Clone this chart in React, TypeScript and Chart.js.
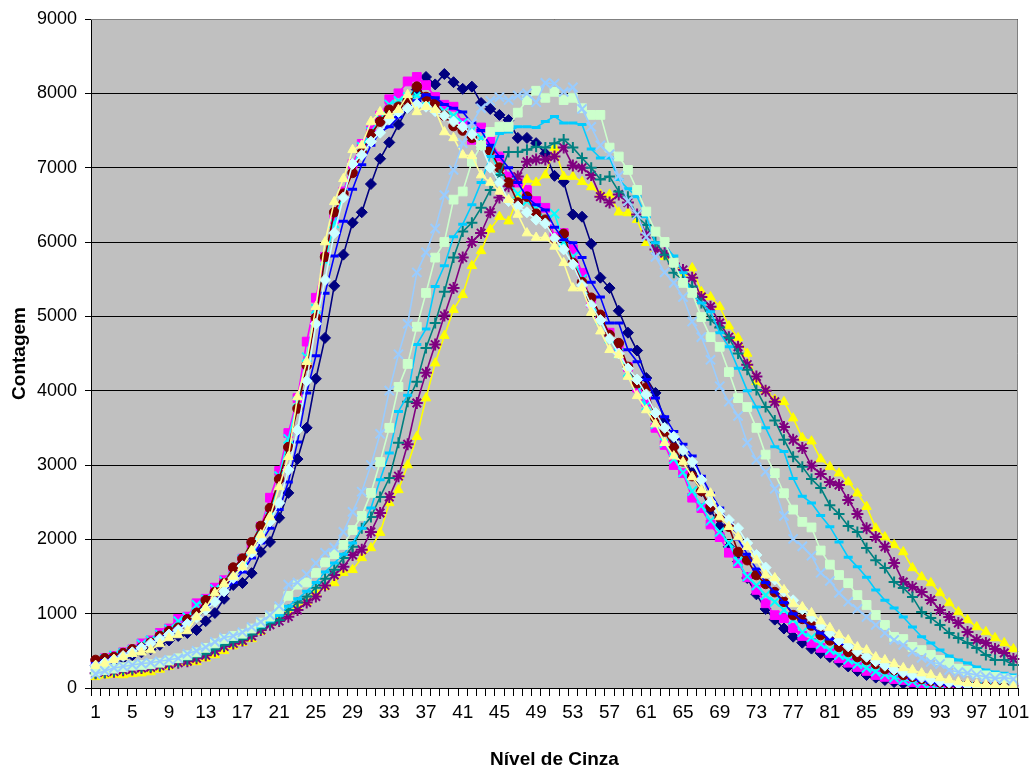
import React, { useEffect, useRef } from 'react';
import { Chart, registerables } from 'chart.js';

Chart.register(...registerables);

const categories: string[] = Array.from({ length: 101 }, (_, i) => String(i + 1));
const yTicks = [0, 1000, 2000, 3000, 4000, 5000, 6000, 7000, 8000, 9000];

// left-peaked group
const navy = [
  300, 330, 360, 400, 440, 480, 520, 580, 640, 700,
  740, 780, 900, 1010, 1200, 1386, 1413, 1545, 1830, 1965,
  2290, 2625, 3080, 3500, 4160, 4710, 5410, 5830, 6260, 6400,
  6780, 7120, 7340, 7580, 7800, 8050, 8220, 8120, 8260, 8150,
  8060, 8090, 7870, 7790, 7710, 7640, 7400, 7400, 7330, 7190,
  6890, 6810, 6370, 6340, 5975, 5520, 5380, 5075, 4780, 4540,
  4170, 3970, 3600, 3350, 3100, 2900, 2650, 2400, 2180, 1900,
  1700, 1480, 1260, 1063, 920, 800, 690, 610, 530, 470,
  417, 350, 290, 230, 175, 140, 108, 80, 60, 45,
  30, 20, 15, 10, 6, 4, 3, 2, 1, 1, 0,
];
const magenta = [
  340, 400, 430, 480, 520, 600, 640, 740, 800, 930,
  960, 1140, 1200, 1350, 1450, 1600, 1740, 1930, 2170, 2560,
  2920, 3430, 3900, 4660, 5250, 5800, 6310, 6680, 7050, 7320,
  7500, 7700, 7920, 8000, 8160, 8220, 8110, 7950, 7846, 7820,
  7600, 7375, 7540, 7375, 7150, 6880, 6800, 6700, 6550, 6460,
  6070, 6120, 5900, 5585, 5180, 4980, 4780, 4550, 4320, 4040,
  3850, 3500, 3270, 3000, 2890, 2560, 2420, 2200, 2030, 1820,
  1680, 1490, 1320, 1140, 980, 940, 808, 700, 606, 540,
  470, 400, 340, 283, 230, 175, 150, 120, 108, 80,
  60, 45, 35, 25, 20, 15, 10, 8, 5, 3, 2,
];
const cyan = [
  330, 390, 440, 470, 510, 590, 640, 720, 790, 900,
  950, 1120, 1190, 1330, 1440, 1600, 1730, 1920, 2150, 2300,
  2850, 3350, 3850, 4450, 5100, 5750, 6250, 6650, 7000, 7280,
  7480, 7650, 7850, 7900, 7950, 7970, 7900, 7800, 7760, 7700,
  7600, 7500, 7400, 7200, 6950, 6800, 6650, 6550, 6450, 6300,
  6380, 6000, 5800, 5500, 5200, 4950, 4700, 4500, 4250, 4080,
  3800, 3550, 3300, 3080, 2900, 2650, 2450, 2250, 2100, 1950,
  1700, 1500, 1380, 1250, 1160, 1050, 920, 750, 680, 590,
  510, 440, 380, 320, 270, 220, 180, 140, 110, 90,
  70, 55, 40, 30, 22, 16, 12, 8, 6, 4, 3,
];
const darkRed = [
  377, 400, 417, 470, 520, 545, 610, 700, 765, 810,
  925, 1010, 1180, 1290, 1410, 1620, 1740, 1960, 2180, 2420,
  2810, 3240, 3760, 4340, 4980, 5800, 6400, 6650, 6930, 7200,
  7450, 7620, 7780, 7820, 7900, 8090, 7950, 7870, 7700, 7560,
  7500, 7400, 7300, 7230, 7000, 6800, 6530, 6610, 6380, 6300,
  6040, 6110, 5720, 5460, 5250, 5020, 4750, 4640, 4320, 4100,
  4040, 3630, 3450, 3230, 3050, 2850, 2650, 2440, 2300, 2170,
  1830, 1720, 1520, 1400, 1290, 1160, 980, 930, 840, 713,
  640, 552, 485, 417, 377, 323, 255, 242, 175, 150,
  120, 95, 75, 60, 45, 35, 25, 20, 15, 10, 8,
];
const blue = [
  330, 370, 410, 450, 500, 560, 610, 680, 730, 800,
  880, 960, 1070, 1180, 1300, 1420, 1560, 1750, 1950, 2150,
  2400, 2770, 3310, 3970, 4470, 5310, 5810, 6280, 6710, 7040,
  7300, 7480, 7550, 7680, 7800, 7900, 7980, 7940, 7850, 7800,
  7750, 7600, 7500, 7300, 7150, 7000, 6800, 6600, 6500, 6430,
  6200, 6030, 5990, 5790, 5460, 5260, 4910, 4910, 4550, 4390,
  4150, 3900, 3650, 3450, 3280, 3120, 2850, 2620, 2420, 2220,
  2000, 1800, 1600, 1420, 1290, 1150, 1000, 900, 820, 740,
  660, 600, 560, 500, 420, 350, 290, 230, 180, 135,
  100, 75, 55, 40, 30, 20, 15, 10, 7, 5, 3,
];
const lightCyan = [
  300, 340, 380, 430, 480, 540, 600, 660, 720, 780,
  860, 950, 1050, 1160, 1300, 1480, 1640, 1820, 2000, 2240,
  2490, 2935, 3470, 4130, 4900, 5490, 6120, 6600, 7050, 7170,
  7350, 7470, 7650, 7750, 7800, 7850, 7820, 7760, 7700, 7620,
  7550, 7450, 7300, 7000, 6800, 6550, 6480, 6400, 6300, 6250,
  6050, 5900, 5700, 5420, 5150, 4950, 4700, 4500, 4300, 4150,
  3950, 3700, 3500, 3380, 3200, 3040, 2800, 2500, 2380, 2260,
  2150, 1950, 1790, 1620, 1460, 1300, 1180, 1060, 950, 840,
  740, 640, 560, 490, 420, 360, 300, 250, 210, 170,
  140, 110, 90, 70, 55, 40, 30, 22, 15, 10, 8,
];
const lightYellow = [
  300, 330, 380, 417, 460, 480, 510, 592, 673, 713,
  767, 955, 1077, 1279, 1400, 1500, 1628, 1850, 2060, 2300,
  2705, 3110, 3915, 4390, 5130, 6000, 6540, 6850, 7240, 7300,
  7620, 7750, 7700, 7780, 7980, 7750, 7820, 7780, 7480, 7400,
  7170, 7160, 6900, 6800, 6680, 6570, 6370, 6120, 6060, 6060,
  5940, 5720, 5380, 5380, 5050, 4800, 4550, 4480, 4190, 3930,
  3740, 3550, 3300, 3120, 3040, 2840, 2665, 2620, 2300, 2170,
  2030, 1900, 1720, 1520, 1480, 1320, 1130, 1090, 1010, 900,
  810, 713, 646, 552, 510, 417, 377, 323, 270, 242,
  200, 175, 135, 108, 80, 65, 50, 40, 30, 22, 15,
];

// right-peaked group
const lightBlue = [
  190, 230, 270, 290, 310, 330, 340, 360, 380, 400,
  460, 500, 550, 620, 680, 700, 750, 820, 890, 980,
  1100, 1390, 1420, 1530, 1680, 1820, 1890, 2100, 2370, 2640,
  3000, 3420, 4000, 4490, 4900, 5590, 5860, 6180, 6630, 6970,
  7330, 7600, 7800, 7900, 7950, 7910, 7970, 8000, 7880, 8140,
  8130, 8020, 8080, 7790, 7550, 7300, 7180, 6890, 6550, 6370,
  6070, 5800, 5590, 5450, 5260, 4930, 4720, 4415, 4060, 3850,
  3660, 3300, 3070, 2910, 2680, 2315, 2005, 1905, 1780, 1550,
  1440, 1280, 1160, 1063, 955, 848, 740, 646, 579, 485,
  404, 350, 323, 242, 215, 200, 175, 150, 130, 140, 120,
];
const lightGreen = [
  220, 240, 260, 280, 300, 310, 320, 340, 370, 400,
  440, 480, 540, 600, 660, 700, 730, 800, 880, 960,
  1060, 1240, 1390, 1420, 1550, 1690, 1800, 1925, 2125, 2315,
  2625, 3040, 3500, 4050, 4360, 4860, 5315, 5790, 6000, 6570,
  6680, 7080, 7300, 7480, 7550, 7550, 7740, 7910, 8035, 7940,
  8020, 7910, 7940, 7800, 7710, 7710, 7270, 7150, 6970, 6700,
  6410, 6140, 6000, 5720, 5450, 5315, 4990, 4720, 4590, 4250,
  3900, 3780, 3500, 3140, 2890, 2620, 2400, 2235, 2160, 1850,
  1660, 1520, 1410, 1250, 1117, 982, 848, 686, 659, 552,
  510, 444, 377, 336, 260, 230, 200, 170, 150, 130, 110,
];
const skyBlue = [
  200, 220, 240, 260, 280, 300, 310, 330, 350, 380,
  420, 460, 510, 560, 620, 660, 700, 760, 830, 900,
  980, 1100, 1200, 1300, 1420, 1560, 1680, 1800, 1950, 2150,
  2420, 2800, 3160, 3720, 3940, 4620, 4830, 5400, 5680, 6070,
  6240, 6500, 6800, 7150, 7460, 7480, 7550, 7550, 7540, 7620,
  7690, 7600, 7600, 7580, 7250, 7130, 7130, 6840, 6715, 6610,
  6340, 5990, 5960, 5810, 5585, 5290, 5180, 5060, 4780, 4590,
  4300, 4000, 3780, 3500, 3245, 3180, 2820, 2580, 2490, 2320,
  2170, 1965, 1760, 1630, 1490, 1320, 1180, 1077, 955, 820,
  690, 606, 510, 430, 377, 336, 283, 242, 215, 200, 175,
];
const teal = [
  200, 210, 230, 250, 260, 280, 290, 310, 330, 350,
  380, 420, 460, 520, 580, 620, 660, 720, 800, 870,
  915, 1050, 1150, 1230, 1350, 1470, 1590, 1750, 1900, 2150,
  2300, 2570, 2825, 3300, 3850, 4120, 4575, 4910, 5330, 5790,
  6140, 6260, 6460, 6700, 6900, 7210, 7210, 7240, 7280, 7270,
  7330, 7380, 7270, 7130, 7000, 6840, 6880, 6680, 6610, 6340,
  6230, 6000, 5830, 5585, 5490, 5400, 5180, 4950, 4850, 4710,
  4500, 4280, 4010, 3780, 3600, 3340, 3110, 2975, 2810, 2690,
  2460, 2340, 2180, 2100, 1884, 1720, 1615, 1427, 1346, 1225,
  1023, 942, 848, 740, 673, 606, 538, 444, 377, 377, 310,
];
const purple = [
  200, 210, 220, 240, 250, 270, 280, 300, 320, 340,
  360, 400, 440, 500, 560, 600, 640, 700, 780, 850,
  900, 960, 1050, 1150, 1230, 1380, 1520, 1630, 1790, 1860,
  2100, 2355, 2570, 2850, 3280, 3835, 4240, 4620, 5010, 5380,
  5790, 6000, 6120, 6400, 6600, 6750, 6880, 7080, 7110, 7110,
  7150, 7270, 7030, 7000, 6900, 6610, 6530, 6640, 6530, 6370,
  6100, 5900, 5850, 5710, 5625, 5520, 5260, 5130, 4910, 4720,
  4590, 4350, 4190, 4000, 3850, 3510, 3340, 3230, 2990, 2880,
  2770, 2730, 2530, 2340, 2150, 2030, 1900, 1680, 1427, 1360,
  1290, 1184, 1050, 955, 875, 754, 646, 606, 525, 470, 390,
];
const yellow = [
  150, 170, 180, 175, 190, 200, 215, 250, 290, 336,
  340, 350, 400, 444, 500, 565, 610, 660, 760, 875,
  950, 1023, 1090, 1157, 1279, 1360, 1413, 1550, 1590, 1750,
  1884, 2090, 2490, 2665, 3000, 3380, 3900, 4370, 4740, 5090,
  5290, 5680, 5880, 6170, 6340, 6280, 6600, 6840, 6800, 6900,
  7270, 6880, 6880, 6810, 6740, 6640, 6640, 6400, 6390, 6300,
  5990, 5900, 5800, 5720, 5585, 5650, 5330, 5260, 5130, 4870,
  4710, 4500, 4120, 4000, 3880, 3850, 3630, 3365, 3320, 3080,
  2975, 2890, 2770, 2620, 2440, 2150, 2030, 1925, 1830, 1615,
  1494, 1413, 1279, 1144, 1023, 915, 821, 754, 673, 606, 525,
];

type SeriesDef = { label: string; data: number[]; color: string; style: string; r: number; filled: boolean; pw: number };

// Excel series order (later series drawn on top)
const seriesDefs: SeriesDef[] = [
  { label: 'Série1', data: navy, color: '#000080', style: 'rectRot', r: 5.5, filled: true, pw: 1 },
  { label: 'Série2', data: magenta, color: '#FF00FF', style: 'rect', r: 6.2, filled: true, pw: 1 },
  { label: 'Série3', data: yellow, color: '#FFFF00', style: 'triangle', r: 5.5, filled: true, pw: 1 },
  { label: 'Série4', data: cyan, color: '#00FFFF', style: 'crossRot', r: 6.5, filled: false, pw: 2 },
  { label: 'Série5', data: purple, color: '#800080', style: 'star', r: 6, filled: false, pw: 2 },
  { label: 'Série6', data: darkRed, color: '#800000', style: 'circle', r: 4.8, filled: true, pw: 1 },
  { label: 'Série7', data: teal, color: '#008080', style: 'cross', r: 5.5, filled: false, pw: 2 },
  { label: 'Série8', data: blue, color: '#0000FF', style: 'line', r: 4.5, filled: false, pw: 3 },
  { label: 'Série9', data: skyBlue, color: '#00CCFF', style: 'line', r: 4.5, filled: false, pw: 3 },
  { label: 'Série10', data: lightCyan, color: '#CCFFFF', style: 'rectRot', r: 5.5, filled: true, pw: 1 },
  { label: 'Série11', data: lightGreen, color: '#CCFFCC', style: 'rect', r: 6.2, filled: true, pw: 1 },
  { label: 'Série12', data: lightYellow, color: '#FFFF99', style: 'triangle', r: 5.5, filled: true, pw: 1 },
  { label: 'Série13', data: lightBlue, color: '#99CCFF', style: 'crossRot', r: 6.5, filled: false, pw: 2 },
];

const FONT = "'Liberation Sans', Arial, sans-serif";

const plotBgPlugin = {
  id: 'plotBg',
  beforeDraw(chart: any) {
    const { ctx, chartArea: a } = chart;
    ctx.save();
    ctx.fillStyle = '#C0C0C0';
    ctx.fillRect(a.left, a.top, a.right - a.left, a.bottom - a.top);
    ctx.restore();
  },
  afterDraw(chart: any) {
    const { ctx, chartArea: a } = chart;
    ctx.save();
    ctx.strokeStyle = '#808080';
    ctx.lineWidth = 1;
    ctx.beginPath();
    ctx.moveTo(a.left, a.top + 0.5);
    ctx.lineTo(a.right - 0.5, a.top + 0.5);
    ctx.lineTo(a.right - 0.5, a.bottom);
    ctx.stroke();
    ctx.restore();
  },
};

export default function App() {
  const canvasRef = useRef<HTMLCanvasElement | null>(null);

  useEffect(() => {
    document.body.style.margin = '0';
    const canvas = canvasRef.current;
    if (!canvas) return;
    const datasets = seriesDefs
      .map((s) => ({
        label: s.label,
        data: s.data,
        borderColor: s.color,
        backgroundColor: s.color,
        borderWidth: 1.6,
        pointStyle: s.style as any,
        pointRadius: s.r,
        pointBorderWidth: s.pw,
        pointBorderColor: s.color,
        pointBackgroundColor: s.filled ? s.color : 'transparent',
        tension: 0,
        fill: false,
      }))
      .reverse();

    const chart = new Chart(canvas, {
      type: 'line',
      data: { labels: categories, datasets },
      plugins: [plotBgPlugin],
      options: {
        responsive: false,
        animation: false,
        devicePixelRatio: 1,
        layout: { padding: { top: 19, right: 11, left: 0, bottom: 0 } },
        plugins: { legend: { display: false }, tooltip: { enabled: false } },
        scales: {
          x: {
            type: 'category',
            offset: true,
            grid: { display: true, drawOnChartArea: false, drawTicks: true, tickLength: 8, offset: true, color: '#000', lineWidth: 1 },
            border: { display: true, color: '#000', width: 1 },
            ticks: {
              autoSkip: false,
              maxRotation: 0,
              minRotation: 0,
              padding: 5,
              color: '#000',
              font: { family: FONT, size: 19 },
              callback: (_v: any, i: number) => (i % 4 === 0 ? categories[i] : ''),
            },
            title: { display: true, text: 'Nível de Cinza', color: '#000', font: { family: FONT, size: 19, weight: 'bold' }, padding: { top: 0, bottom: 1 } },
            afterFit: (s: any) => { s.height = 84; s.paddingLeft = 0; s.paddingRight = 0; },
          },
          y: {
            min: 0,
            max: 9000,
            afterBuildTicks: (s: any) => { s.ticks = yTicks.map((v) => ({ value: v })); },
            grid: { color: '#000', lineWidth: 1, drawTicks: true, tickLength: 6 },
            border: { display: true, color: '#000', width: 1 },
            ticks: { padding: 8, color: '#000', font: { family: FONT, size: 18 }, callback: (v: any) => String(v) },
            title: { display: true, text: 'Contagem', color: '#000', font: { family: FONT, size: 19, weight: 'bold' }, padding: { top: 8, bottom: 0 } },
            afterFit: (s: any) => { s.width = 91; s.paddingTop = 0; s.paddingBottom = 0; },
          },
        },
      },
    });
    return () => chart.destroy();
  }, []);

  return (
    <div style={{ width: 1029, height: 772, position: 'relative', background: '#fff' }}>
      <canvas ref={canvasRef} width={1029} height={772} style={{ display: 'block', width: 1029, height: 772 }} />
    </div>
  );
}
